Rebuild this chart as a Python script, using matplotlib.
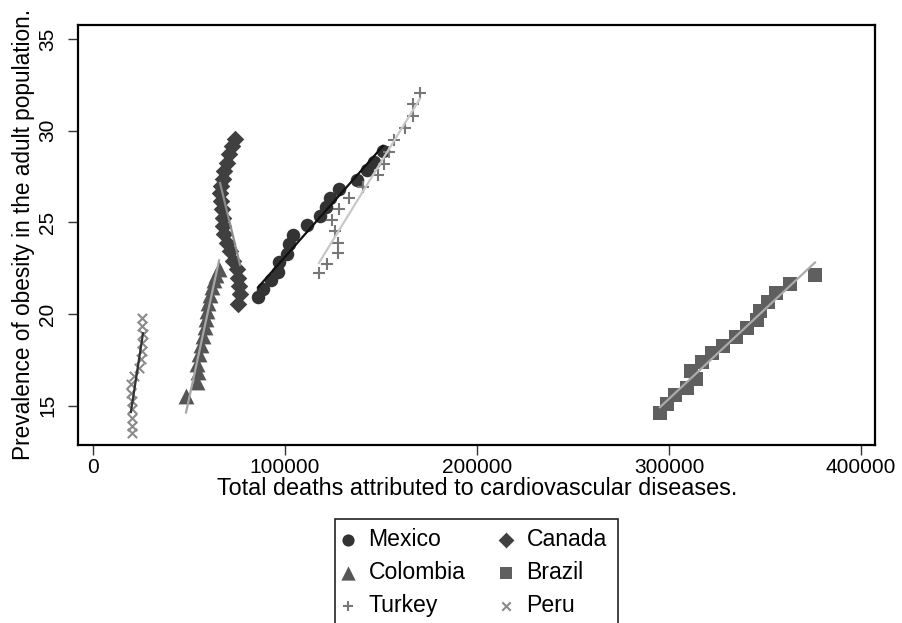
import numpy as np
import matplotlib.pyplot as plt
from matplotlib.patches import Rectangle

plt.rcParams['font.family'] = ['Liberation Sans', 'DejaVu Sans']

# Total deaths from cardiovascular diseases (x) vs obesity prevalence in % (y)
mexico_x = [86100, 88700, 92800, 96400, 97000, 101200, 102200, 104300, 111600, 118400,
            121500, 123500, 128200, 137600, 142800, 146400, 151100]
mexico_y = [20.94, 21.38, 21.87, 22.30, 22.85, 23.28, 23.83, 24.32, 24.86, 25.35,
            25.84, 26.34, 26.83, 27.32, 27.86, 28.30, 28.90]

canada_x = [74100, 72500, 71000, 69900, 68400, 67800, 66800, 66300, 66800, 67300, 67800,
            67800, 68400, 69900, 71500, 73000, 75100, 75600, 76200, 76700, 75600]
canada_y = [29.55, 29.17, 28.73, 28.24, 27.81, 27.37, 26.99, 26.61, 26.17, 25.74, 25.25,
            24.81, 24.37, 23.88, 23.45, 22.90, 22.47, 21.98, 21.54, 21.10, 20.56]

colombia_x = [48600, 54300, 54800, 54300, 55400, 56400, 57400, 58500, 59000, 59500,
              60000, 61100, 62100, 63200, 64200, 65800]
colombia_y = [15.54, 16.31, 16.85, 17.29, 17.83, 18.32, 18.81, 19.31, 19.74, 20.18,
              20.61, 21.05, 21.49, 21.87, 22.14, 22.47]

brazil_x = [295300, 299000, 303100, 309400, 314100, 311500, 317200, 322400, 328100,
            334900, 340600, 345800, 347400, 351600, 355700, 363000, 376000]
brazil_y = [14.62, 15.11, 15.60, 15.98, 16.47, 16.91, 17.40, 17.89, 18.27,
            18.76, 19.25, 19.69, 20.18, 20.67, 21.16, 21.65, 22.14]

turkey_x = [117800, 122000, 127700, 127700, 126200, 124600, 128200, 133400, 140700,
            148500, 151600, 154200, 156800, 162600, 166700, 166700, 170400]
turkey_y = [22.25, 22.74, 23.34, 23.88, 24.54, 25.14, 25.74, 26.34, 26.93,
            27.59, 28.19, 28.84, 29.50, 30.15, 30.80, 31.46, 32.06]

peru_x = [25700, 25700, 26200, 25700, 25700, 25200, 24200, 21500, 19900, 19900,
          20500, 20500, 20500, 20500, 20500]
peru_y = [19.80, 19.36, 18.92, 18.43, 18.00, 17.56, 17.07, 16.63, 16.20, 15.71,
          15.27, 14.84, 14.35, 13.91, 13.53]

countries = [
    # name, x, y, marker, size, marker colour, fit line colour
    ("Mexico", mexico_x, mexico_y, "o", 95, "#333333", "#111111"),
    ("Colombia", colombia_x, colombia_y, "^", 130, "#555555", "#a6a6a6"),
    ("Turkey", turkey_x, turkey_y, "+", 75, "#777777", "#c8c8c8"),
    ("Canada", canada_x, canada_y, "D", 80, "#404040", "#8c8c8c"),
    ("Brazil", brazil_x, brazil_y, "s", 95, "#5f5f5f", "#ababab"),
    ("Peru", peru_x, peru_y, "x", 45, "#8a8a8a", "#333333"),
]

fig = plt.figure(figsize=(9.02, 6.23), dpi=100)
ax = fig.add_axes([0.0870, 0.2865, 0.8830, 0.6733])

handles = []
for name, x, y, mk, sz, col, lcol in countries:
    x = np.array(x, dtype=float)
    y = np.array(y, dtype=float)
    if mk in ("+", "x"):
        h = ax.scatter(x, y, s=sz, marker=mk, color=col, linewidths=1.5, zorder=2, label=name)
    else:
        h = ax.scatter(x, y, s=sz, marker=mk, color=col, linewidths=0, zorder=2, label=name)
    handles.append(h)

# linear fit per country, drawn over the data range
for name, x, y, mk, sz, col, lcol in countries:
    x = np.array(x, dtype=float)
    y = np.array(y, dtype=float)
    b, a = np.polyfit(x, y, 1)
    xs = np.array([x.min(), x.max()])
    ax.plot(xs, a + b * xs, color=lcol, lw=1.6, zorder=3)

ax.set_xlim(-7400, 407200)
ax.set_ylim(12.88, 35.76)
ax.set_xticks([0, 100000, 200000, 300000, 400000])
ax.set_xticklabels(["0", "100000", "200000", "300000", "400000"])
ax.set_yticks([15, 20, 25, 30, 35])
ax.set_yticklabels(["15", "20", "25", "30", "35"], rotation=90, va="center")
ax.tick_params(direction="out", length=7, width=1, color="#333333", labelsize=15)
ax.tick_params(axis="x", pad=2.5)
ax.tick_params(axis="y", pad=8.5)
for sp in ax.spines.values():
    sp.set_linewidth(1.6)

ax.set_xlabel("Total deaths attributed to cardiovascular diseases.", fontsize=16.8, labelpad=0)
ax.set_ylabel("Prevalence of obesity in the adult population.", fontsize=16.3, labelpad=2)

leg = fig.legend(handles=handles, ncol=2, loc="upper left",
                 bbox_to_anchor=(320 / 902, 1 - 512 / 623), frameon=False,
                 fontsize=16.6, handletextpad=0.4, columnspacing=1.26,
                 labelspacing=0.44, handlelength=1.0, borderpad=0.2, markerscale=0.9)

# legend box runs past the bottom edge
fig.patches.append(Rectangle((335 / 902, -0.05), (618 - 335) / 902, 1 - 519 / 623 + 0.05,
                             transform=fig.transFigure, fill=False, edgecolor="#222222",
                             linewidth=1.2, figure=fig))

fig.savefig("out.png", dpi=100)
